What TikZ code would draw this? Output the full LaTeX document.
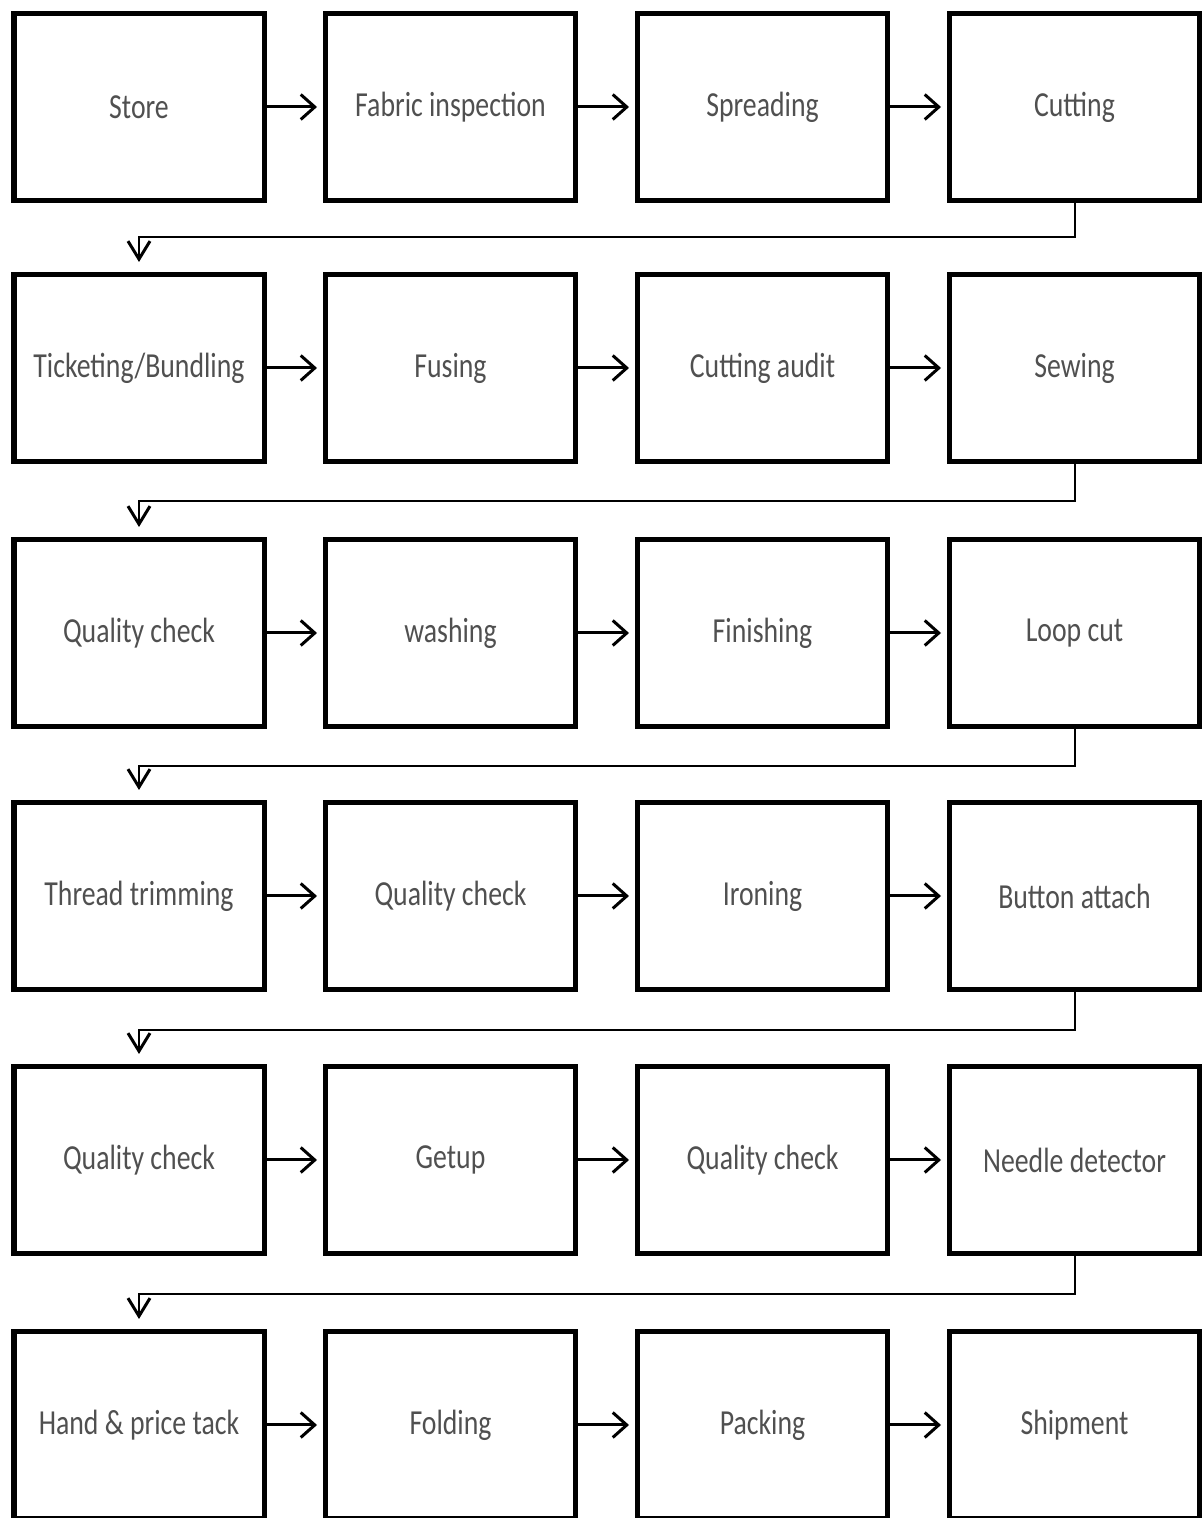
\documentclass[tikz,border=0pt]{standalone}
\usepackage{fontspec}
\setmainfont{Carlito}[FakeStretch=0.79]
\usetikzlibrary{arrows.meta}
\definecolor{labelgray}{HTML}{505050}
\tikzset{
  stage/.style={draw=black, line width=0.10cm, minimum width=5.00cm, minimum height=3.74cm, inner sep=0pt, text=labelgray},
  flow/.style={line width=0.06cm, -{Straight Barb[length=0.28cm,width=0.50cm,line width=0.06cm]}, shorten >=0.12cm},
  wrap/.style={line width=0.04cm, -{Straight Barb[length=0.36cm,width=0.44cm,line width=0.06cm]}, shorten >=0.20cm},
}
\begin{document}
\begin{tikzpicture}
                \clip (0,0) rectangle (24.060000,30.360000);
                {\fontsize{20}{24}\selectfont

                % Row 1
                \node [stage] (store)     at (2.780000,28.220000) {Store};
                \node [stage] (fabric)    at (9.010000,28.220000) {Fabric inspection};
                \node [stage] (spreading) at (15.250000,28.220000) {Spreading};
                \node [stage] (cutting)   at (21.490000,28.220000) {Cutting};
                \draw [flow] (store) -- (fabric);
                \draw [flow] (fabric) -- (spreading);
                \draw [flow] (spreading) -- (cutting);

                % Row 2
                \node [stage] (ticketing) at (2.780000,23.000000) {Ticketing/Bundling};
                \node [stage] (fusing)    at (9.010000,23.000000) {Fusing};
                \node [stage] (audit)     at (15.250000,23.000000) {Cutting audit};
                \node [stage] (sewing)    at (21.490000,23.000000) {Sewing};
                \draw [flow] (ticketing) -- (fusing);
                \draw [flow] (fusing) -- (audit);
                \draw [flow] (audit) -- (sewing);

                % Row 3
                \node [stage] (qcheckA)   at (2.780000,17.700000) {Quality check};
                \node [stage] (washing)   at (9.010000,17.700000) {washing};
                \node [stage] (finishing) at (15.250000,17.700000) {Finishing};
                \node [stage] (loopcut)   at (21.490000,17.700000) {Loop cut};
                \draw [flow] (qcheckA) -- (washing);
                \draw [flow] (washing) -- (finishing);
                \draw [flow] (finishing) -- (loopcut);

                % Row 4
                \node [stage] (trimming)  at (2.780000,12.440000) {Thread trimming};
                \node [stage] (qcheckB)   at (9.010000,12.440000) {Quality check};
                \node [stage] (ironing)   at (15.250000,12.440000) {Ironing};
                \node [stage] (button)    at (21.490000,12.440000) {Button attach};
                \draw [flow] (trimming) -- (qcheckB);
                \draw [flow] (qcheckB) -- (ironing);
                \draw [flow] (ironing) -- (button);

                % Row 5
                \node [stage] (qcheckC)   at (2.780000,7.160000) {Quality check};
                \node [stage] (getup)     at (9.010000,7.160000) {Getup};
                \node [stage] (qcheckD)   at (15.250000,7.160000) {Quality check};
                \node [stage] (needle)    at (21.490000,7.160000) {Needle detector};
                \draw [flow] (qcheckC) -- (getup);
                \draw [flow] (getup) -- (qcheckD);
                \draw [flow] (qcheckD) -- (needle);

                % Row 6
                \node [stage] (tack)      at (2.780000,1.860000) {Hand \& price tack};
                \node [stage] (folding)   at (9.010000,1.860000) {Folding};
                \node [stage] (packing)   at (15.250000,1.860000) {Packing};
                \node [stage] (shipment)  at (21.490000,1.860000) {Shipment};
                \draw [flow] (tack) -- (folding);
                \draw [flow] (folding) -- (packing);
                \draw [flow] (packing) -- (shipment);

                % Return lines from the end of one row to the start of the next
                \coordinate (turnA) at (21.490000,25.620000);
                \coordinate (turnB) at (21.490000,20.340000);
                \coordinate (turnC) at (21.490000,15.040000);
                \coordinate (turnD) at (21.490000,9.760000);
                \coordinate (turnE) at (21.490000,4.480000);
                \draw [wrap] (cutting.south) -- (turnA) -| (ticketing.north);
                \draw [wrap] (sewing.south) -- (turnB) -| (qcheckA.north);
                \draw [wrap] (loopcut.south) -- (turnC) -| (trimming.north);
                \draw [wrap] (button.south) -- (turnD) -| (qcheckC.north);
                \draw [wrap] (needle.south) -- (turnE) -| (tack.north);
                }
\end{tikzpicture}
\end{document}
